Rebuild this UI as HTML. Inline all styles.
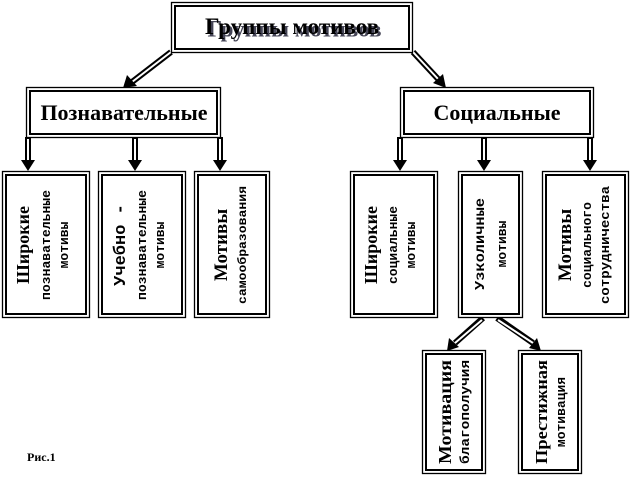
<!DOCTYPE html>
<html><head><meta charset="utf-8"><style>
html,body{margin:0;padding:0;background:#fff;}
svg{display:block;}
text{font-family:"Liberation Serif",serif;font-weight:bold;fill:#000;}
.s{font-family:"Liberation Mono",monospace;}
</style></head><body>
<svg width="632" height="487" viewBox="0 0 632 487" xmlns="http://www.w3.org/2000/svg">
<g fill="none" stroke="#000">
<g stroke-width="6">
<line x1="171" y1="52" x2="132" y2="82"/>
<line x1="413" y1="52" x2="439" y2="80"/>
<line x1="28" y1="137" x2="28" y2="160"/>
<line x1="135" y1="137" x2="135" y2="160"/>
<line x1="220" y1="137" x2="220" y2="160"/>
<line x1="400" y1="137" x2="400" y2="160"/>
<line x1="484" y1="137" x2="484" y2="160"/>
<line x1="590" y1="137" x2="590" y2="160"/>
<line x1="483" y1="318" x2="455" y2="343"/>
<line x1="497" y1="318" x2="533" y2="343"/>
</g>
<g stroke="#fff" stroke-width="2">
<line x1="171" y1="52" x2="132" y2="82"/>
<line x1="413" y1="52" x2="439" y2="80"/>
<line x1="28" y1="139" x2="28" y2="160"/>
<line x1="135" y1="139" x2="135" y2="160"/>
<line x1="220" y1="139" x2="220" y2="160"/>
<line x1="400" y1="139" x2="400" y2="160"/>
<line x1="484" y1="139" x2="484" y2="160"/>
<line x1="590" y1="139" x2="590" y2="160"/>
<line x1="482" y1="320" x2="455" y2="343"/>
<line x1="498" y1="320" x2="533" y2="343"/>
</g>
</g>
<g fill="#000">
<polygon points="21,160 35,160 28,171"/>
<polygon points="128,160 142,160 135,171"/>
<polygon points="213,160 227,160 220,171"/>
<polygon points="393,160 407,160 400,171"/>
<polygon points="477,160 491,160 484,171"/>
<polygon points="583,160 597,160 590,171"/>
<polygon points="123,88 127,75 137,86"/>
<polygon points="446,88 433,83 443,74"/>
<polygon points="447,351 449,338 459,347"/>
<polygon points="541,351 529,348 537,338"/>
</g>
<g fill="#fff" stroke="#000">
<g stroke-width="1.3">
<rect x="171.5" y="2.5" width="241" height="50"/>
<rect x="26.5" y="87.5" width="194" height="50"/>
<rect x="400.5" y="87.5" width="193" height="50"/>
<rect x="2.5" y="171.5" width="87" height="146"/>
<rect x="98.5" y="171.5" width="87" height="146"/>
<rect x="194.5" y="171.5" width="75" height="146"/>
<rect x="350.5" y="171.5" width="87" height="146"/>
<rect x="458.5" y="171.5" width="64" height="146"/>
<rect x="542.5" y="171.5" width="86" height="146"/>
<rect x="422.5" y="350.5" width="63" height="123"/>
<rect x="518.5" y="350.5" width="63" height="123"/>
</g>
<g stroke-width="2" fill="none">
<rect x="175" y="6" width="234" height="43"/>
<rect x="30" y="91" width="187" height="43"/>
<rect x="404" y="91" width="186" height="43"/>
<rect x="6" y="175" width="80" height="139"/>
<rect x="102" y="175" width="80" height="139"/>
<rect x="198" y="175" width="68" height="139"/>
<rect x="354" y="175" width="80" height="139"/>
<rect x="462" y="175" width="57" height="139"/>
<rect x="546" y="175" width="79" height="139"/>
<rect x="426" y="354" width="56" height="116"/>
<rect x="522" y="354" width="56" height="116"/>
</g>
</g>
<text x="293" y="35" font-size="23" text-anchor="middle" style="fill:#445" transform="translate(1.5,1.5)">Группы мотивов</text>
<text x="292" y="34" font-size="23" text-anchor="middle">Группы мотивов</text>
<text x="124" y="120" font-size="22" text-anchor="middle">Познавательные</text>
<text x="497" y="120" font-size="22" text-anchor="middle">Социальные</text>
<text x="27" y="461" font-size="12">Рис.1</text>
<g text-anchor="middle">
<g transform="translate(46,245) rotate(-90)">
<text x="0" y="-17" font-size="18">Широкие</text>
<text class="s" x="0" y="4" font-size="13" textLength="110" lengthAdjust="spacingAndGlyphs">познавательные</text>
<text class="s" x="0" y="22" font-size="13">мотивы</text>
</g>
<g transform="translate(142,245) rotate(-90)">
<text class="s" x="0" y="-17" font-size="17">Учебно -</text>
<text class="s" x="0" y="4" font-size="13" textLength="110" lengthAdjust="spacingAndGlyphs">познавательные</text>
<text class="s" x="0" y="22" font-size="13">мотивы</text>
</g>
<g transform="translate(232,245) rotate(-90)">
<text x="0" y="-5" font-size="19">Мотивы</text>
<text class="s" x="0" y="14" font-size="12" textLength="118" lengthAdjust="spacingAndGlyphs">самообразования</text>
</g>
<g transform="translate(394,245) rotate(-90)">
<text x="0" y="-17" font-size="18">Широкие</text>
<text class="s" x="0" y="3" font-size="13">социальные</text>
<text class="s" x="0" y="21" font-size="13">мотивы</text>
</g>
<g transform="translate(490,244) rotate(-90)">
<text class="s" x="0" y="-6" font-size="14" textLength="92" lengthAdjust="spacingAndGlyphs">Узколичные</text>
<text class="s" x="0" y="16" font-size="13">мотивы</text>
</g>
<g transform="translate(585,245) rotate(-90)">
<text x="0" y="-14" font-size="19">Мотивы</text>
<text class="s" x="0" y="6" font-size="13">социального</text>
<text class="s" x="0" y="24" font-size="13" textLength="118" lengthAdjust="spacingAndGlyphs">сотрудничества</text>
</g>
<g transform="translate(454,412) rotate(-90)">
<text x="0" y="-3" font-size="18" textLength="104" lengthAdjust="spacingAndGlyphs">Мотивация</text>
<text class="s" x="0" y="15" font-size="13" textLength="104" lengthAdjust="spacingAndGlyphs">благополучия</text>
</g>
<g transform="translate(550,412) rotate(-90)">
<text x="0" y="-3" font-size="17" textLength="104" lengthAdjust="spacingAndGlyphs">Престижная</text>
<text class="s" x="0" y="15" font-size="13">мотивация</text>
</g>
</g>
</svg>
</body></html>
